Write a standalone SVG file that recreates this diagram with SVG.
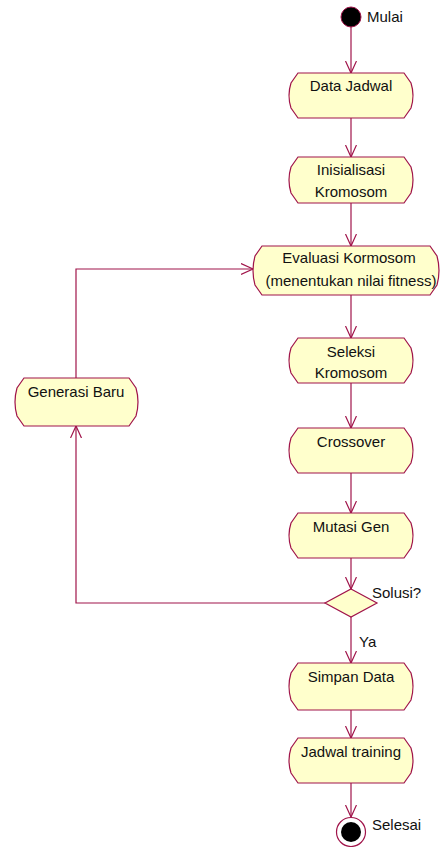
<svg xmlns="http://www.w3.org/2000/svg" width="442" height="847" viewBox="0 0 442 847">
<defs>
<style>
.node path{fill:#ffffcc;stroke:#a0144a;stroke-width:1.2}
text{font-family:"Liberation Sans",Arial,sans-serif;font-size:15px;fill:#111}
.c{text-anchor:middle}
.edge{fill:none;stroke:#a0144a;stroke-width:1.2}
</style>
<marker id="arr" markerUnits="userSpaceOnUse" markerWidth="14" markerHeight="14" refX="12" refY="6" orient="auto">
<path d="M0,0.5 L12,6 L0,11.5" fill="none" stroke="#a0144a" stroke-width="1.2"/>
</marker>
</defs>
<rect width="442" height="847" fill="#ffffff"/>
<g id="connectors">
<line class="edge" x1="351" y1="27" x2="351" y2="73" marker-end="url(#arr)"/>
<line class="edge" x1="351" y1="118" x2="351" y2="157" marker-end="url(#arr)"/>
<line class="edge" x1="351" y1="203" x2="351" y2="246" marker-end="url(#arr)"/>
<line class="edge" x1="351" y1="295" x2="351" y2="338" marker-end="url(#arr)"/>
<line class="edge" x1="351" y1="383" x2="351" y2="428" marker-end="url(#arr)"/>
<line class="edge" x1="351" y1="473" x2="351" y2="513" marker-end="url(#arr)"/>
<line class="edge" x1="351" y1="558" x2="351" y2="589" marker-end="url(#arr)"/>
<line class="edge" x1="351" y1="617" x2="351" y2="663" marker-end="url(#arr)"/>
<line class="edge" x1="351" y1="710" x2="351" y2="738" marker-end="url(#arr)"/>
<line class="edge" x1="351" y1="783" x2="351" y2="817" marker-end="url(#arr)"/>
<polyline class="edge" points="325,603 76,603 76,426" marker-end="url(#arr)"/>
<polyline class="edge" points="76,378 76,269 253,269" marker-end="url(#arr)"/>
<text x="359" y="647">Ya</text>
</g>
<g id="start">
<circle cx="351" cy="17" r="10" fill="#000" stroke="#a0144a" stroke-width="1"/>
<text x="367" y="22">Mulai</text>
</g>
<g id="n1" class="node">
<path d="M298,73 H404 L411,83 Q415,95.5 411,108 L404,118 H298 L291,108 Q287,95.5 291,83 Z"/>
<text class="c" x="351" y="91">Data Jadwal</text>
</g>
<g id="n2" class="node">
<path d="M298,157 H404 L411,167 Q415,180 411,193 L404,203 H298 L291,193 Q287,180 291,167 Z"/>
<text class="c" x="351" y="175">Inisialisasi</text>
<text class="c" x="351" y="197">Kromosom</text>
</g>
<g id="n3" class="node">
<path d="M262,246 H430 L437,256 Q441,270.5 437,285 L430,295 H262 L255,285 Q251,270.5 255,256 Z"/>
<text class="c" x="349" y="263">Evaluasi Kormosom</text>
<text class="c" x="351" y="286">(menentukan nilai fitness)</text>
</g>
<g id="n4" class="node">
<path d="M24,378 H129 L136,388 Q140,402 136,416 L129,426 H24 L17,416 Q13,402 17,388 Z"/>
<text class="c" x="76" y="397">Generasi Baru</text>
</g>
<g id="n5" class="node">
<path d="M298,338 H404 L411,348 Q415,360.5 411,373 L404,383 H298 L291,373 Q287,360.5 291,348 Z"/>
<text class="c" x="351" y="357">Seleksi</text>
<text class="c" x="351" y="378">Kromosom</text>
</g>
<g id="n6" class="node">
<path d="M298,428 H404 L411,438 Q415,450.5 411,463 L404,473 H298 L291,463 Q287,450.5 291,438 Z"/>
<text class="c" x="351" y="447">Crossover</text>
</g>
<g id="n7" class="node">
<path d="M298,513 H404 L411,523 Q415,535.5 411,548 L404,558 H298 L291,548 Q287,535.5 291,523 Z"/>
<text class="c" x="351" y="532">Mutasi Gen</text>
</g>
<g id="decision" class="node">
<path d="M351,589 L377,603 L351,617 L325,603 Z"/>
<text x="372" y="598">Solusi?</text>
</g>
<g id="n8" class="node">
<path d="M298,663 H404 L411,673 Q415,686.5 411,700 L404,710 H298 L291,700 Q287,686.5 291,673 Z"/>
<text class="c" x="351" y="682">Simpan Data</text>
</g>
<g id="n9" class="node">
<path d="M298,738 H404 L411,748 Q415,760.5 411,773 L404,783 H298 L291,773 Q287,760.5 291,748 Z"/>
<text class="c" x="351" y="757">Jadwal training</text>
</g>
<g id="end">
<circle cx="351" cy="832" r="14.5" fill="#fff" stroke="#a0144a" stroke-width="1.2"/>
<circle cx="351" cy="832" r="10" fill="#000"/>
<text x="372" y="830">Selesai</text>
</g>
</svg>
